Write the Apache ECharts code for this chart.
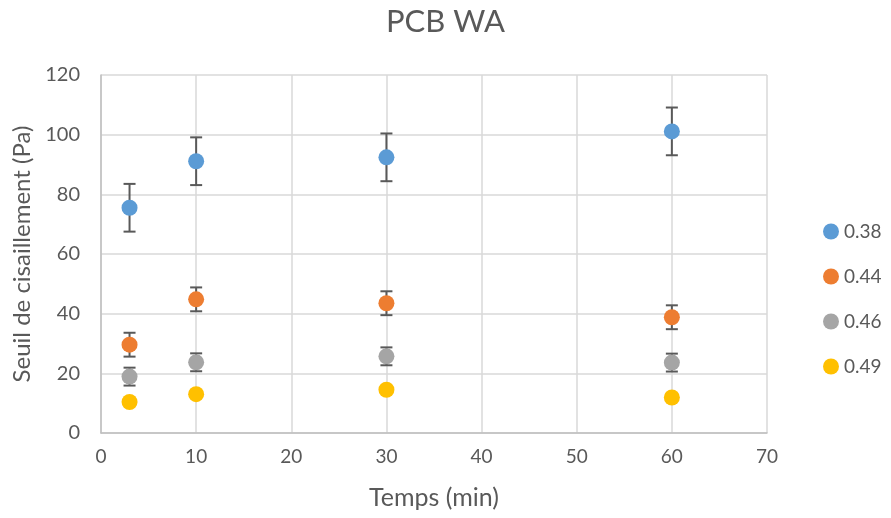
<!DOCTYPE html>
<html>
<head>
<meta charset="utf-8">
<script src="https://cdn.jsdelivr.net/npm/echarts@6/dist/echarts.min.js"></script>
<style>
  html, body { margin: 0; padding: 0; background: #fff; }
  #chart { width: 891px; height: 518px; }
</style>
</head>
<body>
<div id="chart"></div>
<script>
let times = [3, 10, 30, 60];
let seriesNames = ['0.38', '0.44', '0.46', '0.49'];
let colors = ['#5b9bd5', '#ed7d31', '#a5a5a5', '#ffc000'];
let values = [
  [75.5, 91.1, 92.4, 101.1],
  [29.6, 44.8, 43.5, 38.8],
  [18.9, 23.7, 25.7, 23.6],
  [10.4, 13.0, 14.5, 11.9]
];
let errors = [
  [8, 8, 8, 8],
  [4, 4, 4, 4],
  [3, 3, 3, 3],
  [1, 1, 1, 1]
];

let font = 'Lato';
let textColor = '#595959';

let myChart = echarts.init(document.getElementById('chart'));

let renderError = function (params, api) {
  let x = api.value(0);
  let lo = api.coord([x, api.value(1)]);
  let hi = api.coord([x, api.value(2)]);
  let half = 6;
  let style = { stroke: '#595959', lineWidth: 2 };
  return {
    type: 'group',
    children: [
      { type: 'line', shape: { x1: hi[0], y1: hi[1], x2: lo[0], y2: lo[1] }, style: style },
      { type: 'line', shape: { x1: hi[0] - half, y1: hi[1], x2: hi[0] + half, y2: hi[1] }, style: style },
      { type: 'line', shape: { x1: lo[0] - half, y1: lo[1], x2: lo[0] + half, y2: lo[1] }, style: style }
    ]
  };
};

let series = [];
seriesNames.forEach(function (name, i) {
  series.push({
    name: name,
    type: 'custom',
    renderItem: renderError,
    encode: { x: 0, y: [1, 2] },
    z: 2,
    silent: true,
    data: times.map(function (t, j) {
      return [t, values[i][j] - errors[i][j], values[i][j] + errors[i][j]];
    })
  });
});
seriesNames.forEach(function (name, i) {
  series.push({
    name: name,
    type: 'scatter',
    symbol: 'circle',
    symbolSize: 16,
    z: 3,
    itemStyle: { color: colors[i], opacity: 1 },
    data: times.map(function (t, j) {
      return [t, values[i][j]];
    })
  });
});

let option = {
  animation: false,
  color: colors,
  textStyle: { fontFamily: font },
  title: {
    text: 'PCB WA',
    left: 'center',
    top: 1,
    textStyle: { fontFamily: font, fontSize: 31, fontWeight: 'normal', color: textColor }
  },
  legend: {
    orient: 'vertical',
    left: 818,
    top: 217,
    itemGap: 26,
    itemWidth: 16,
    itemHeight: 19,
    data: seriesNames.map(function (n) { return { name: n, icon: 'circle' }; }),
    textStyle: { fontFamily: font, fontSize: 19, color: textColor }
  },
  grid: { left: 101, right: 124, top: 75, bottom: 85 },
  xAxis: {
    type: 'value',
    min: 0,
    max: 70,
    interval: 10,
    name: 'Temps (min)',
    nameLocation: 'middle',
    nameGap: 52,
    nameTextStyle: { fontFamily: font, fontSize: 25, color: textColor },
    axisLine: { lineStyle: { color: '#bfbfbf', width: 1.5 } },
    axisTick: { show: false },
    axisLabel: { fontFamily: font, fontSize: 19, color: textColor, margin: 14 },
    splitLine: { show: true, lineStyle: { color: '#d9d9d9', width: 1.5 } }
  },
  yAxis: {
    type: 'value',
    min: 0,
    max: 120,
    interval: 20,
    name: 'Seuil de cisaillement (Pa)',
    nameLocation: 'middle',
    nameGap: 67,
    nameTextStyle: { fontFamily: font, fontSize: 24, color: textColor },
    axisLine: { show: true, lineStyle: { color: '#bfbfbf', width: 1.5 } },
    axisTick: { show: false },
    axisLabel: { fontFamily: font, fontSize: 20, color: textColor, margin: 21 },
    splitLine: { show: true, lineStyle: { color: '#d9d9d9', width: 1.5 } }
  },
  series: series
};
myChart.setOption(option);
</script>
</body>
</html>
